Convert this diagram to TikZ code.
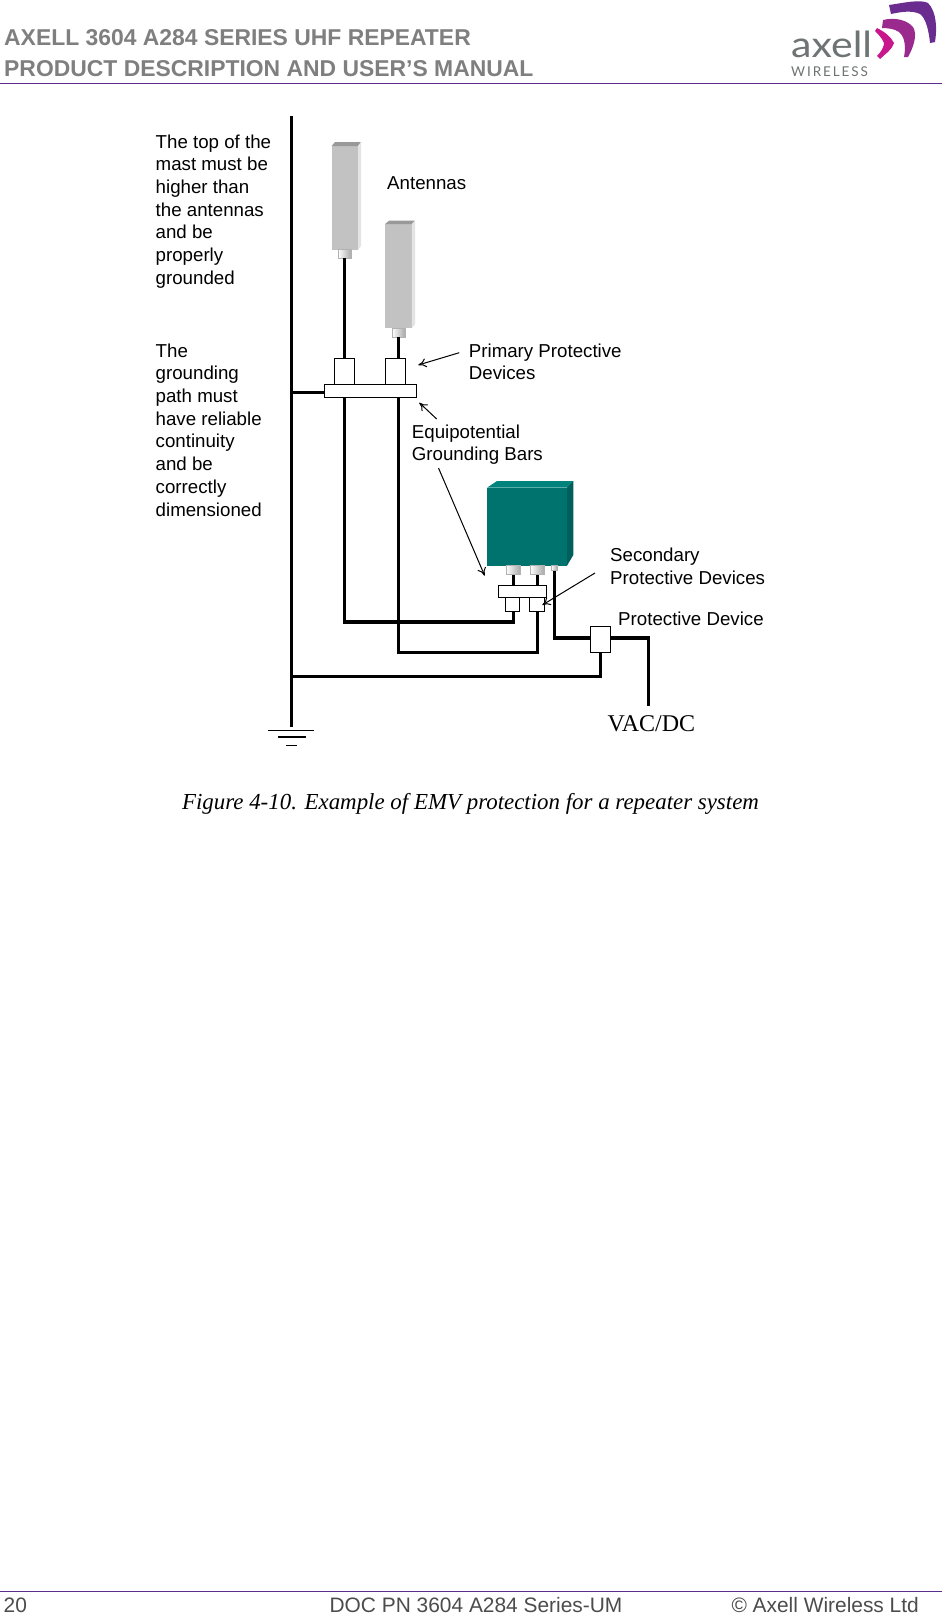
\documentclass[tikz,border=0pt]{standalone}
\usepackage{fontspec}
\setmainfont{Liberation Sans}
\newfontfamily\timesf{Liberation Serif}
\newfontfamily\latof{Lato}
\newfontfamily\latosp[LetterSpace=14]{Lato}
\definecolor{hdr}{HTML}{7F7F7F}
\definecolor{rulec}{HTML}{5B2D8E}
\definecolor{teal1}{HTML}{00736F}
\definecolor{teal2}{HTML}{00827D}
\definecolor{teal3}{HTML}{005F5B}
\definecolor{antfront}{HTML}{C2C2C2}
\definecolor{anttop}{HTML}{999999}
\definecolor{antside}{HTML}{E4E4E4}
\definecolor{logop}{HTML}{6B2C8F}
\definecolor{logom}{HTML}{9A2A8E}
\definecolor{logor}{HTML}{C8168C}
\definecolor{logog}{HTML}{6E7374}
\usetikzlibrary{arrows.meta}
\tikzset{
 x=1pt,y=-1pt,
 wire/.style={line width=3.4pt,black,line join=miter},
 boxs/.style={draw=black,fill=white,line width=1pt,minimum width=0pt,minimum height=0pt,inner sep=0pt},
 note/.style={anchor=base west,inner sep=0pt,font=\fontsize{18.7}{22.7}\selectfont,align=left},
 lead/.style={line width=1pt,black},
 arr/.style={lead,-{To[length=8pt,width=9pt]}},
 conn/.style={left color=white,right color=gray!70,draw=gray!60,line width=0.5pt},
 hdrt/.style={anchor=base west,inner sep=0pt,text=hdr,font=\fontsize{22.9}{26}\selectfont\bfseries},
 foot/.style={anchor=base,inner sep=0pt,text=black!70,font=\fontsize{20.9}{22}\selectfont},
}
\begin{document}
\begin{tikzpicture}
\useasboundingbox (0,0) rectangle (942,1614);
\fill[white] (0,0) rectangle (942,1614);
% header
\node[hdrt] (h1) at (4,45) {AXELL 3604 A284 SERIES UHF REPEATER};
\node[hdrt] (h2) at (4,76) {PRODUCT DESCRIPTION AND USER’S MANUAL};
\draw[rulec,line width=1pt] (0,83.5) -- (942,83.5);
% logo
\fill[logop] (889,5) .. controls (903,3) and (920,-1) .. (928,3) .. controls (937,12) and (937,30) .. (935,42) -- (930,43) .. controls (929,32) and (926,18) .. (920,14) .. controls (912,10) and (900,12) .. (891,14) -- cycle;
\fill[logom] (883,20) .. controls (895,17) and (907,20) .. (913,27) .. controls (918,35) and (913,48) .. (908,57) -- (904,57) .. controls (906,47) and (905,37) .. (899,32) .. controls (895,29) and (888,28) .. (882,28) -- cycle;
\fill[logor] (877,28) .. controls (885,32) and (891,37) .. (894,43) .. controls (892,50) and (885,54) .. (880,59) -- (877,56) .. controls (881,52) and (884,47) .. (884,43) .. controls (882,38) and (878,34) .. (875,31) -- cycle;
\node[anchor=base west,inner sep=0pt,text=logog,font=\latof\fontsize{36}{36}\selectfont] (lg1) at (791,57) {\scalebox{1.14}[1]{axell}};
\node[anchor=base west,inner sep=0pt,text=logog,font=\latosp\fontsize{13.5}{14}\selectfont] (lg2) at (791,76) {WIRELESS};
% mast & wires
\coordinate (mt) at (291.5,116);
\coordinate (mb) at (291.5,727);
\coordinate (mj1) at (291.5,392.3);
\coordinate (mj2) at (291.5,676.3);
\draw[wire] (mt) -- (mb);
% antennas
\path[fill=antfront] (331.7,146) rectangle (358,250);
\path[fill=anttop] (331.7,146) -- (335,142) -- (361,142) -- (358,146) -- cycle;
\path[fill=antside] (358,146) -- (361,142) -- (361,246) -- (358,250) -- cycle;
\path[fill=antfront] (385.2,224) rectangle (411.8,328);
\path[fill=anttop] (385.2,224) -- (389,220.7) -- (415,220.7) -- (411.8,224) -- cycle;
\path[fill=antside] (411.8,224) -- (415,220.7) -- (415,324.5) -- (411.8,328) -- cycle;
\draw[conn] (338,249) rectangle (351.7,258);
\draw[conn] (391.8,328) rectangle (405.5,337);
\coordinate (a1) at (344.6,258);
\coordinate (a2) at (398.6,337);
% lower wires
\draw[wire] (a1) -- (344.6,622) -- (513.5,622) -- (513.5,605);
\draw[wire] (a2) -- (398.6,652.7) -- (537.5,652.7) -- (537.5,590);
\draw[wire] (513.3,574) -- (513.3,590);
\draw[wire] (537.3,574) -- (537.3,590);
\draw[wire] (554.5,570) -- (554.5,638) -- (648.7,638) -- (648.7,705.7);
\draw[wire] (600.3,650) -- (600.3,676.3) -- (mj2);
\draw[wire] (mj1) -- (330,392.3);
% top boxes
\node[boxs,minimum width=20.4pt,minimum height=26pt,anchor=north west] (pb1) at (334,358.3) {};
\node[boxs,minimum width=20pt,minimum height=26pt,anchor=north west] (pb2) at (385,358.3) {};
\node[boxs,minimum width=92pt,minimum height=13pt,anchor=north west] (bar1) at (324.3,384.3) {};
% repeater
\fill[teal1] (487.3,487.5) rectangle (567,565.7);
\fill[teal2] (487.3,487.5) -- (497,481) -- (573.3,481) -- (567,487.5) -- cycle;
\fill[teal3] (567,487.5) -- (573.3,481) -- (573.3,555) -- (567,565.7) -- cycle;
\draw[conn] (506,565.7) rectangle (520.7,574.3);
\draw[conn] (530,565.7) rectangle (544.7,574.3);
\draw[conn] (551.3,565.7) rectangle (557.3,570.5);
% lower boxes
\node[boxs,minimum width=14pt,minimum height=14pt,anchor=north west] (sb1) at (505.3,597.3) {};
\node[boxs,minimum width=14.4pt,minimum height=14pt,anchor=north west] (sb2) at (529.3,597.3) {};
\node[boxs,minimum width=48pt,minimum height=12pt,anchor=north west] (bar2) at (498.3,585.3) {};
\node[boxs,minimum width=20.4pt,minimum height=25.4pt,anchor=north west] (pd) at (590,626.3) {};
% ground
\coordinate (g1l) at (268,730.3); \coordinate (g1r) at (314,730.3);
\coordinate (g2l) at (278,736.7); \coordinate (g2r) at (306,736.7);
\coordinate (g3l) at (286,745.3); \coordinate (g3r) at (297,745.3);
\draw[line width=1pt] (g1l) -- (g1r);
\draw[line width=1.8pt] (g2l) -- (g2r);
\draw[line width=1pt] (g3l) -- (g3r);
% leaders
\coordinate (l1) at (459.3,352.7); \coordinate (l1e) at (418.3,365);
\coordinate (l2) at (436.7,419); \coordinate (l2e) at (419.3,402.7);
\coordinate (l3) at (438.5,468); \coordinate (l3e) at (484.7,575.7);
\coordinate (l4) at (595,573); \coordinate (l4e) at (542.3,605);
\draw[arr] (l1) -- (l1e);
\draw[arr] (l2) -- (l2e);
\draw[arr] (l3) -- (l3e);
\draw[arr] (l4) -- (l4e);
% text
\node[note] (t1) at (155.5,284.3) {The top of the\\mast must be\\higher than\\the antennas\\and be\\properly\\grounded};
\node[note] (t2) at (155.5,516) {The\\grounding\\path must\\have reliable\\continuity\\and be\\correctly\\dimensioned};
\node[note] (t3) at (387,189) {Antennas};
\node[note] (t4) at (468.7,379.7) {Primary Protective\\Devices};
\node[note] (t5) at (411.7,460.7) {Equipotential\\Grounding Bars};
\node[note] (t6) at (610,584) {Secondary\\Protective Devices};
\node[note] (t7) at (618,625) {Protective Device};
\node[anchor=base,inner sep=0pt,font=\timesf\fontsize{24}{24}\selectfont] (t8) at (651.3,731) {VAC/DC};
\node[anchor=base,inner sep=0pt,font=\timesf\itshape\fontsize{22.9}{24}\selectfont] (cap) at (470.5,809) {Figure 4-10. Example of EMV protection for a repeater system};
% footer
\draw[rulec,line width=1pt] (0,1591.5) -- (942,1591.5);
\node[foot,anchor=base west] (f1) at (3.5,1612.5) {20};
\node[foot] (f2) at (476,1612.5) {DOC PN 3604 A284 Series-UM};
\node[foot,anchor=base east] (f3) at (919,1612.5) {© Axell Wireless Ltd};
\end{tikzpicture}
\end{document}
